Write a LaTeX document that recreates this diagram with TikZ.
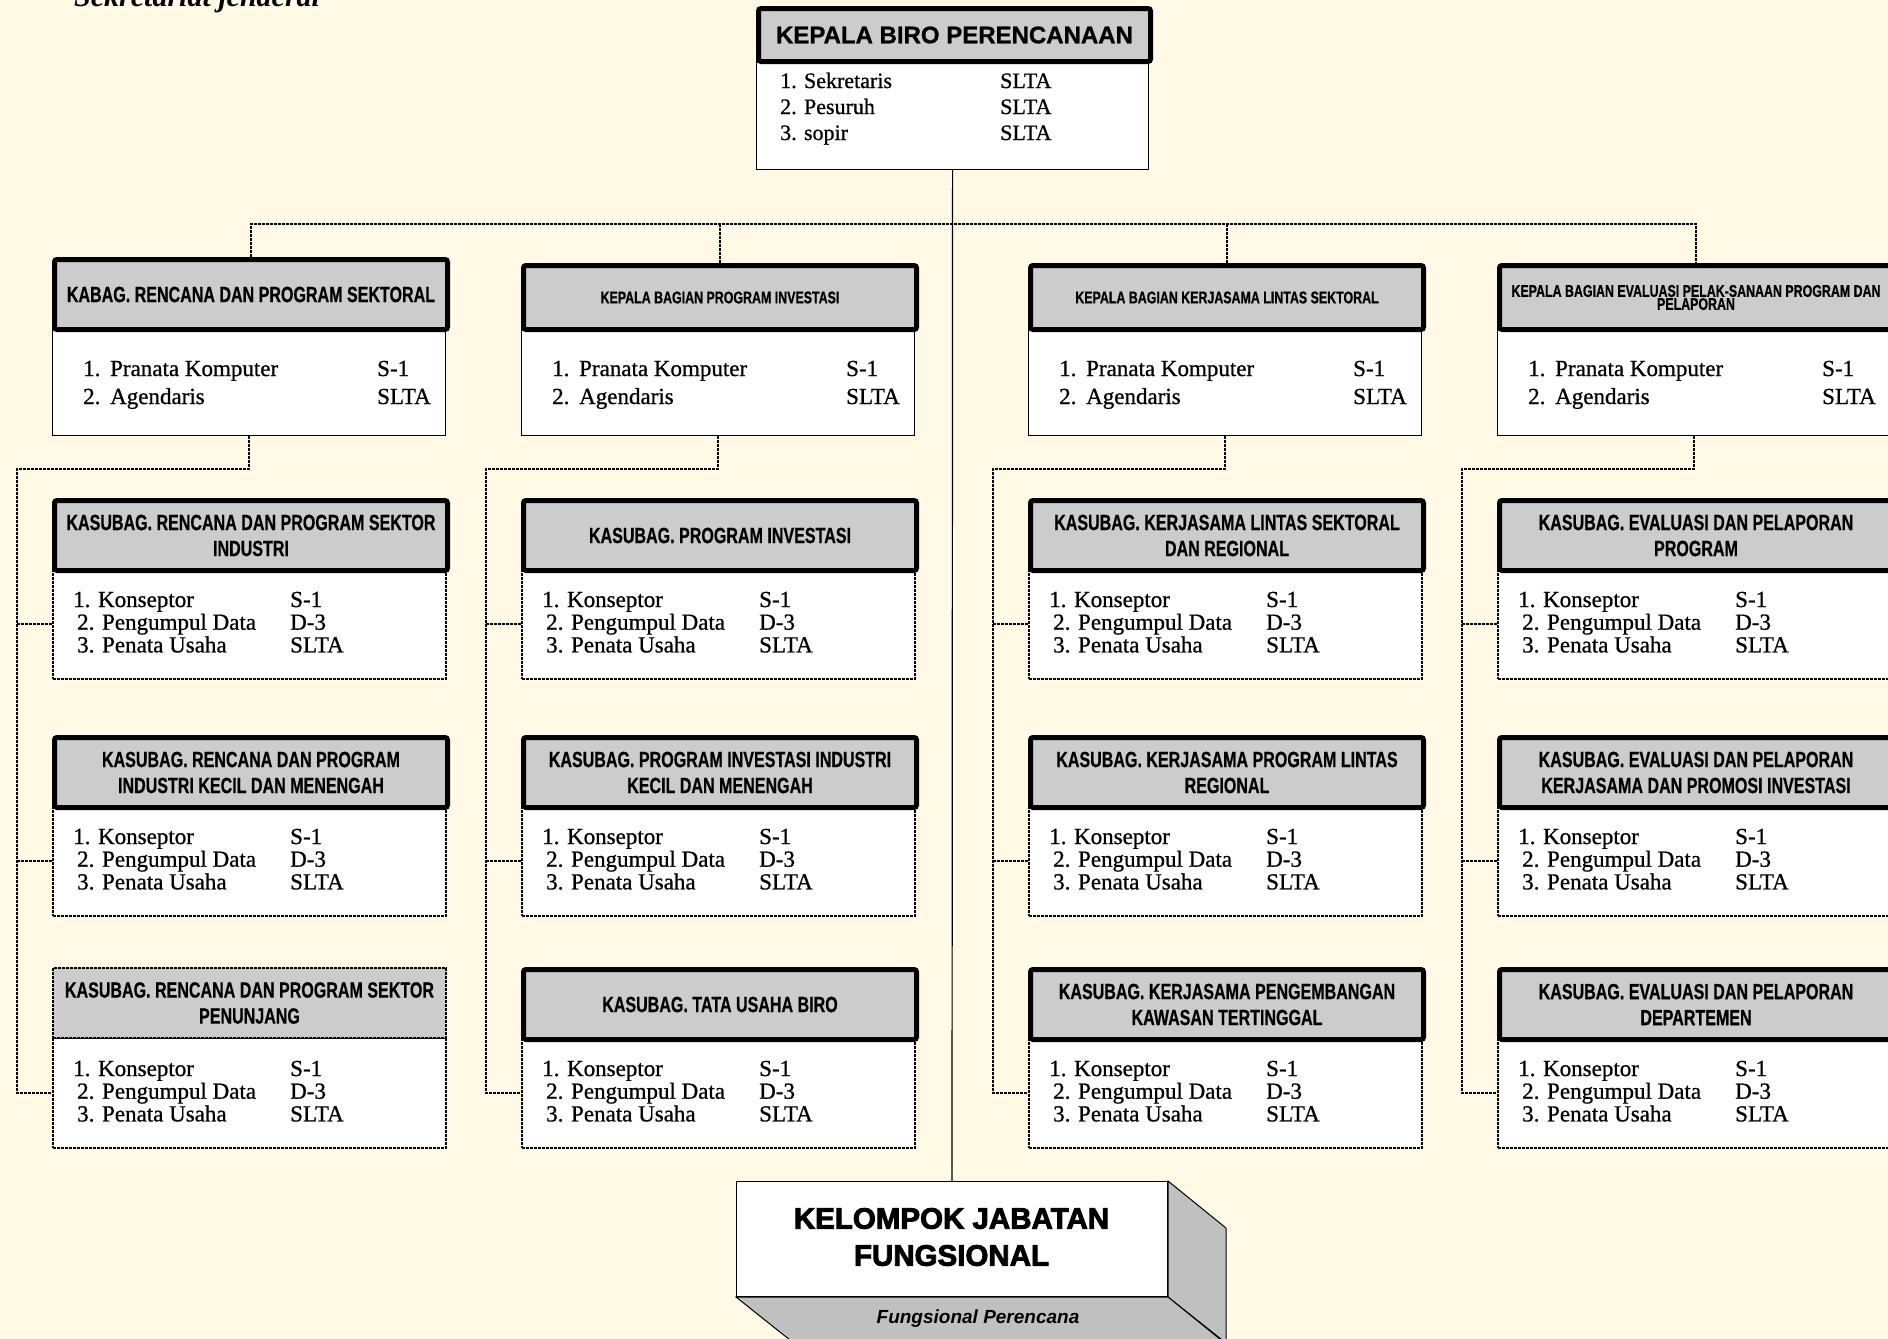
\documentclass[tikz,border=0pt]{standalone}
\usepackage{fontspec}
\usepackage{array}
\setmainfont{Liberation Serif}
\newfontfamily\bodyserif[FakeBold=0.8]{Liberation Serif}
\newfontfamily\narrowsans[FakeStretch=0.73,FakeBold=0.6]{Liberation Sans}
\newfontfamily\plainsans{Liberation Sans}
\newfontfamily\titlesans[FakeBold=1]{Liberation Sans}
\newfontfamily\heavysans[FakeBold=3]{Liberation Sans}

\definecolor{paper}{HTML}{FFF9E6}
\definecolor{hdrgray}{HTML}{CCCCCC}
\definecolor{sidegray}{HTML}{C0C0C0}

\newcommand\subhdrfont{\narrowsans\bfseries\fontsize{22}{26}\selectfont}
\newcommand\smallhdrfont{\narrowsans\bfseries\fontsize{17}{12}\selectfont}
\newcommand\subbodyfont{\bodyserif\fontsize{23}{22.5}\selectfont}
\newcommand\kabagbodyfont{\bodyserif\fontsize{23}{28}\selectfont}

\tikzset{
  hdrbox/.style={draw=black, line width=5pt, rounded corners=2.5pt, fill=hdrgray},
  dothdr/.style={draw=black, line width=2pt, dash pattern=on 3pt off 1pt, fill=hdrgray},
  dotbox/.style={draw=black, line width=2pt, dash pattern=on 3pt off 1pt, fill=white},
  plainbox/.style={draw=black, line width=1.2pt, fill=white},
  link/.style={draw=black, line width=2.6pt, dash pattern=on 3pt off 1pt},
  mainline/.style={draw=black, line width=1.2pt},
}

% section head with its two staff lines
\newcommand\kabagunit[6]{%
  \node[plainbox, anchor=north west, minimum width=393pt, minimum height=108pt] (#1b) at (#2,327) {};
  \node[hdrbox, anchor=north west, minimum width=393pt, minimum height=#4pt, font=#5, align=center] (#1h) at (#2,#3) {#6};
  \node[anchor=base west, inner sep=0pt, font=\kabagbodyfont] (#1t) at (#2+31,376)
    {\begin{tabular}[t]{@{}p{294pt}@{}l@{}}\makebox[27pt][l]{1.}Pranata Komputer & S-1\\ \makebox[27pt][l]{2.}Agendaris & SLTA\end{tabular}};
}

% sub-section box with its three staff lines
\newcommand\subunit[5]{%
  \node[dotbox, anchor=north west, minimum width=393pt, minimum height=110pt] (#1b) at (#2,#3+70) {};
  \node[#5, anchor=north west, minimum width=393pt, minimum height=70pt, font=\subhdrfont, align=center] (#1h) at (#2,#3) {#4};
  \node[anchor=base west, inner sep=0pt, font=\subbodyfont] (#1t) at (#2+21,#3+109)
    {\begin{tabular}[t]{@{}p{217pt}@{}l@{}}1. Konseptor & S-1\\ \hspace{4pt}2. Pengumpul Data & D-3\\ \hspace{4pt}3. Penata Usaha & SLTA\end{tabular}};
}

\begin{document}
\begin{tikzpicture}[x=1pt, y=-1pt]
\useasboundingbox (0,0) rectangle (1888,1339);
\clip (0,0) rectangle (1888,1339);
\fill[paper] (0,0) rectangle (1888,1339);

\node[anchor=base west, inner sep=0pt, font=\bfseries\itshape\fontsize{30}{34}\selectfont] (sekjen) at (74,6) {Sekretariat jenderal};

% head of bureau
\node[plainbox, anchor=north west, minimum width=392pt, minimum height=110pt] (topb) at (756,59) {};
\node[hdrbox, anchor=north west, minimum width=392pt, minimum height=53pt, font=\titlesans\bfseries\fontsize{24}{28}\selectfont] (toph) at (756,6) {KEPALA BIRO PERENCANAAN};
\node[anchor=base west, inner sep=0pt, font=\bodyserif\fontsize{22}{26}\selectfont] (topt) at (780,88)
  {\begin{tabular}[t]{@{}p{220pt}@{}l@{}}1. Sekretaris & SLTA\\2. Pesuruh & SLTA\\3. sopir & SLTA\end{tabular}};

% functional group block
\node[draw=black, line width=1pt, fill=white, minimum width=431pt, minimum height=115pt, anchor=north west] (fung) at (736,1181) {};
\draw[line width=1pt, fill=sidegray] (fung.north east) -- ++(58,47) -- ++(0,115) -- (fung.south east) -- cycle;
\draw[line width=1pt, fill=sidegray] (fung.south west) -- (fung.south east) -- ++(58,47) -- ++(-431,0) -- cycle;
\node[font=\heavysans\bfseries\fontsize{29.5}{37}\selectfont, align=center] (fungtxt) at (951.5,1237) {KELOMPOK JABATAN\\FUNGSIONAL};
\node[font=\plainsans\bfseries\itshape\fontsize{19}{22}\selectfont] (fungsub) at (978,1319) {Fungsional Perencana};

\draw[mainline] (topb.south) -- (fung.north);

% sections
\kabagunit{k1}{52}{257}{70}{\subhdrfont}{KABAG. RENCANA DAN PROGRAM SEKTORAL}
\kabagunit{k2}{521}{263}{64}{\smallhdrfont}{KEPALA BAGIAN PROGRAM INVESTASI}
\kabagunit{k3}{1028}{263}{64}{\smallhdrfont}{KEPALA BAGIAN KERJASAMA LINTAS SEKTORAL}
\kabagunit{k4}{1497}{263}{64}{\smallhdrfont}{KEPALA BAGIAN EVALUASI PELAK-SANAAN PROGRAM DAN\\PELAPORAN}

% sub-sections
\subunit{s11}{52}{498}{KASUBAG. RENCANA DAN PROGRAM SEKTOR\\INDUSTRI}{hdrbox}
\subunit{s12}{52}{735}{KASUBAG. RENCANA DAN PROGRAM\\INDUSTRI KECIL DAN MENENGAH}{hdrbox}
\subunit{s13}{52}{967}{KASUBAG. RENCANA DAN PROGRAM SEKTOR\\PENUNJANG}{dothdr}

\subunit{s21}{521}{498}{KASUBAG. PROGRAM INVESTASI}{hdrbox}
\subunit{s22}{521}{735}{KASUBAG. PROGRAM INVESTASI INDUSTRI\\KECIL DAN MENENGAH}{hdrbox}
\subunit{s23}{521}{967}{KASUBAG. TATA USAHA BIRO}{hdrbox}

\subunit{s31}{1028}{498}{KASUBAG. KERJASAMA LINTAS SEKTORAL\\DAN REGIONAL}{hdrbox}
\subunit{s32}{1028}{735}{KASUBAG. KERJASAMA PROGRAM LINTAS\\REGIONAL}{hdrbox}
\subunit{s33}{1028}{967}{KASUBAG. KERJASAMA PENGEMBANGAN\\KAWASAN TERTINGGAL}{hdrbox}

\subunit{s41}{1497}{498}{KASUBAG. EVALUASI DAN PELAPORAN\\PROGRAM}{hdrbox}
\subunit{s42}{1497}{735}{KASUBAG. EVALUASI DAN PELAPORAN\\KERJASAMA DAN PROMOSI INVESTASI}{hdrbox}
\subunit{s43}{1497}{967}{KASUBAG. EVALUASI DAN PELAPORAN\\DEPARTEMEN}{hdrbox}

% distribution line to the sections
\coordinate (busy) at (0,224);
\draw[link] (k1h.north) -- (k1h.north |- busy) -- (k4h.north |- busy) -- (k4h.north);
\draw[link] (k2h.north) -- (k2h.north |- busy);
\draw[link] (k3h.north) -- (k3h.north |- busy);

% rails from each section to its sub-sections
\coordinate (r1) at (17,469);
\coordinate (r2) at (486,469);
\coordinate (r3) at (993,469);
\coordinate (r4) at (1462,469);
\foreach \col in {1,2,3,4}{
  \draw[link] (k\col b.south) -- (k\col b.south |- r\col) -- (r\col) -- (r\col |- s\col3b.west) -- (s\col3b.west);
  \draw[link] (r\col |- s\col1b.west) -- (s\col1b.west);
  \draw[link] (r\col |- s\col2b.west) -- (s\col2b.west);
}
\end{tikzpicture}
\end{document}
